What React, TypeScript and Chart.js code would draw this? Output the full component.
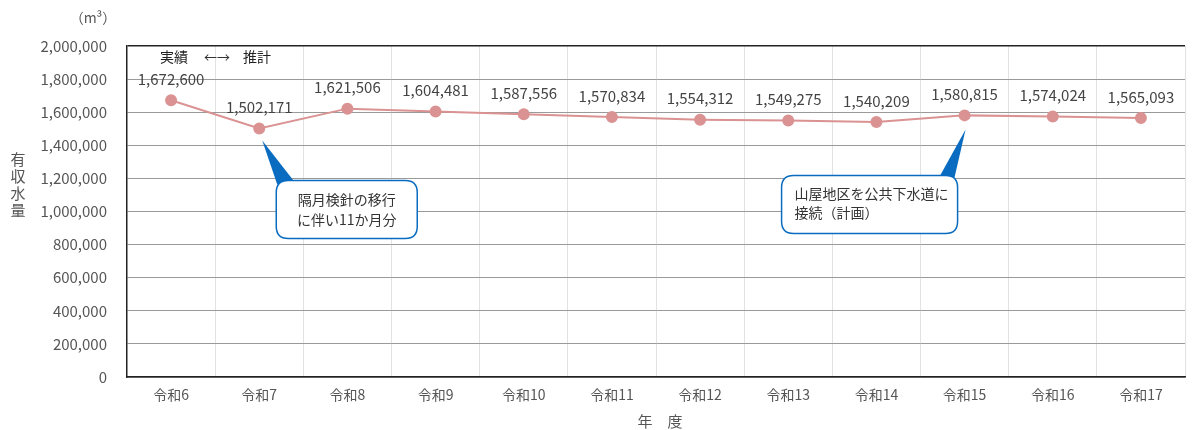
import React, { useEffect, useRef } from "react";
import { Chart, registerables } from "chart.js";

Chart.register(...registerables);

const categories = ["令和6", "令和7", "令和8", "令和9", "令和10", "令和11", "令和12", "令和13", "令和14", "令和15", "令和16", "令和17"];
const volumes = [1672600, 1502171, 1621506, 1604481, 1587556, 1570834, 1554312, 1549275, 1540209, 1580815, 1574024, 1565093];
const yTicks = [0, 200000, 400000, 600000, 800000, 1000000, 1200000, 1400000, 1600000, 1800000, 2000000];
const note1 = ["隔月検針の移行", "に伴い11か月分"];
const note2 = ["山屋地区を公共下水道に", "接続（計画）"];
const legendText = ["実績", "←→", "推計"];

const FONT = '"Noto Sans CJK JP", "Noto Sans", sans-serif';
const LINE_COLOR = "rgb(218,146,146)";
const BLUE = "#0a6cc0";

function fmt(v: number) {
  return v.toLocaleString("en-US");
}

function roundRect(ctx: CanvasRenderingContext2D, x: number, y: number, w: number, h: number, r: number) {
  ctx.beginPath();
  ctx.moveTo(x + r, y);
  ctx.lineTo(x + w - r, y);
  ctx.quadraticCurveTo(x + w, y, x + w, y + r);
  ctx.lineTo(x + w, y + h - r);
  ctx.quadraticCurveTo(x + w, y + h, x + w - r, y + h);
  ctx.lineTo(x + r, y + h);
  ctx.quadraticCurveTo(x, y + h, x, y + h - r);
  ctx.lineTo(x, y + r);
  ctx.quadraticCurveTo(x, y, x + r, y);
  ctx.closePath();
}

const decorPlugin = {
  id: "decor",
  afterDatasetsDraw(chart: any) {
    const ctx: CanvasRenderingContext2D = chart.ctx;
    const xs = chart.scales.x;
    const ys = chart.scales.y;
    ctx.save();
    // data labels
    ctx.font = `15px ${FONT}`;
    ctx.fillStyle = "#444";
    ctx.textAlign = "center";
    ctx.textBaseline = "middle";
    volumes.forEach((v, i) => {
      ctx.fillText(fmt(v), xs.getPixelForValue(i), ys.getPixelForValue(v) - 21);
    });

    // legend text
    ctx.textAlign = "left";
    ctx.fillStyle = "#222";
    ctx.font = `14px ${FONT}`;
    const lx = chart.chartArea.left + 33;
    const ly = chart.chartArea.top + 11;
    ctx.fillText(legendText[0], lx, ly);
    ctx.fillStyle = "#333";
    ctx.font = `13px ${FONT}`;
    ctx.fillText(legendText[1], lx + 44, ly);
    ctx.fillStyle = "#222";
    ctx.font = `14px ${FONT}`;
    ctx.fillText(legendText[2], lx + 83, ly);

    // callout 1
    {
      const px = xs.getPixelForValue(1);
      const py = ys.getPixelForValue(volumes[1]);
      const tipX = px + 3, tipY = py + 12;
      const bx = px + 17, by = py + 52, bw = 141, bh = 58;
      ctx.fillStyle = BLUE;
      ctx.beginPath();
      ctx.moveTo(tipX, tipY);
      ctx.lineTo(bx + 1, by + 4);
      ctx.lineTo(bx + 18, by + 1);
      ctx.closePath();
      ctx.fill();
      roundRect(ctx, bx, by, bw, bh, 12);
      ctx.fillStyle = "#fff";
      ctx.fill();
      ctx.strokeStyle = BLUE;
      ctx.lineWidth = 1.5;
      ctx.stroke();
      ctx.fillStyle = "#333";
      ctx.font = `14px ${FONT}`;
      ctx.textAlign = "center";
      ctx.fillText(note1[0], bx + bw / 2, by + 19);
      ctx.fillText(note1[1], bx + bw / 2, by + 39);
    }
    // callout 2
    {
      const px = xs.getPixelForValue(9);
      const py = ys.getPixelForValue(volumes[9]);
      const tipX = px + 1, tipY = py + 14;
      const bx = px - 183, by = py + 60, bw = 176, bh = 58;
      ctx.fillStyle = BLUE;
      ctx.beginPath();
      ctx.moveTo(tipX, tipY);
      ctx.lineTo(bx + 158, by + 1);
      ctx.lineTo(bx + 172, by + 6);
      ctx.closePath();
      ctx.fill();
      roundRect(ctx, bx, by, bw, bh, 12);
      ctx.fillStyle = "#fff";
      ctx.fill();
      ctx.strokeStyle = BLUE;
      ctx.lineWidth = 1.5;
      ctx.stroke();
      ctx.fillStyle = "#333";
      ctx.font = `14px ${FONT}`;
      ctx.textAlign = "left";
      ctx.fillText(note2[0], bx + 13, by + 18);
      ctx.fillText(note2[1], bx + 13, by + 37);
    }

    // axis titles
    ctx.fillStyle = "#555";
    ctx.font = `14px ${FONT}`;
    ctx.textAlign = "center";
    ctx.fillText("（m³）", 93, 18);
    const yt = "有収水量";
    ctx.font = `15px ${FONT}`;
    for (let i = 0; i < yt.length; i++) {
      ctx.fillText(yt[i], 18, 159 + i * 17);
    }
    ctx.font = `15px ${FONT}`;
    ctx.fillText("年　度", (chart.chartArea.left + chart.chartArea.right) / 2 + 4, 421);
    ctx.restore();
  },
};

export default function App() {
  const ref = useRef<HTMLCanvasElement | null>(null);
  useEffect(() => {
    if (!ref.current) return;
    const chart = new Chart(ref.current, {
      type: "line",
      data: {
        labels: categories,
        datasets: [
          {
            data: volumes,
            borderColor: LINE_COLOR,
            backgroundColor: LINE_COLOR,
            borderWidth: 2,
            pointRadius: 5,
            pointHoverRadius: 5,
            pointBackgroundColor: LINE_COLOR,
            pointBorderColor: LINE_COLOR,
            tension: 0,
          },
        ],
      },
      options: {
        animation: false,
        responsive: false,
        maintainAspectRatio: false,
        layout: { padding: { left: 0, right: 0, top: 46, bottom: 0 } },
        plugins: { legend: { display: false }, tooltip: { enabled: false } },
        scales: {
          x: {
            offset: true,
            grid: { offset: true, color: "#e2e2e2", lineWidth: 1, drawTicks: false },
            border: { color: "#222", width: 1.5 },
            ticks: { color: "#555", font: { family: FONT, size: 14 }, padding: 9 },
            afterFit: (s: any) => {
              s.height = 53;
            },
          },
          y: {
            min: 0,
            max: 2000000,
            afterBuildTicks: (s: any) => {
              s.ticks = yTicks.map((v) => ({ value: v }));
            },
            grid: {
              color: (c: any) => (c.tick && c.tick.value === 2000000 ? "#222" : "#9a9a9a"),
              lineWidth: (c: any) => (c.tick && c.tick.value === 2000000 ? 1.5 : 1),
              drawTicks: false,
            },
            border: { color: "#222", width: 1.5 },
            ticks: {
              color: "#555",
              font: { family: FONT, size: 15 },
              padding: 20,
              callback: (v: any) => fmt(Number(v)),
            },
            afterFit: (s: any) => {
              s.width = 127;
            },
          },
        },
      },
      plugins: [decorPlugin],
    });
    return () => chart.destroy();
  }, []);
  return (
    <div style={{ position: "absolute", left: 0, top: 0, width: 1192, height: 430, background: "#fff" }}>
      <canvas ref={ref} width={1192} height={430} style={{ display: "block" }} />
    </div>
  );
}
